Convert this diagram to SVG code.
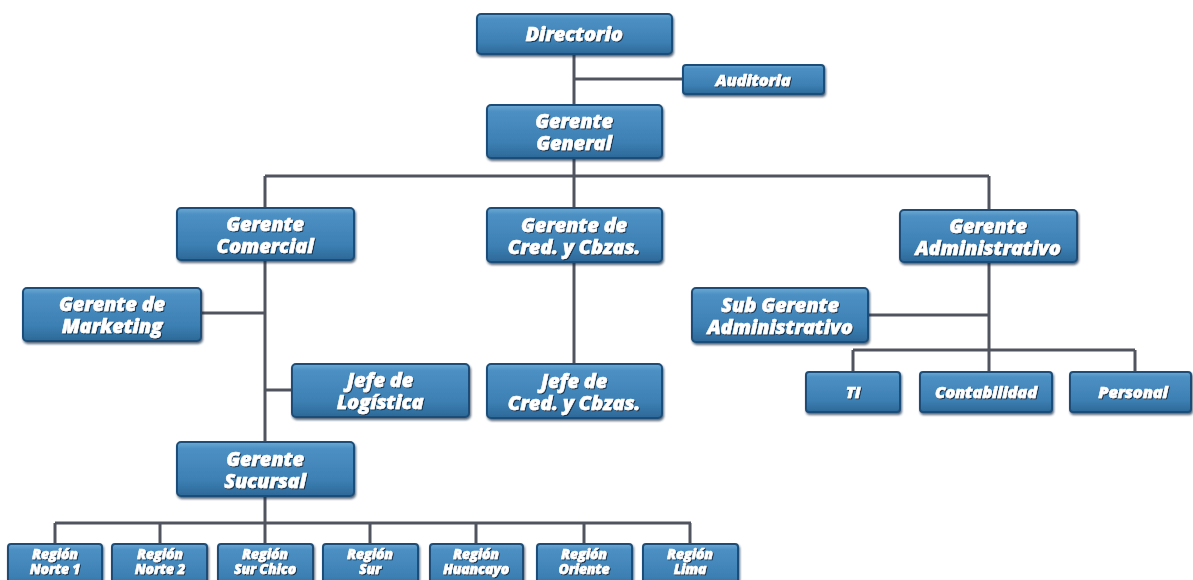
<svg xmlns="http://www.w3.org/2000/svg" width="1193" height="580" viewBox="0 0 1193 580">
<defs>
<linearGradient id="bg" x1="0" y1="0" x2="0" y2="1">
<stop offset="0" stop-color="#6eaad4"/>
<stop offset="0.12" stop-color="#4d90c3"/>
<stop offset="0.7" stop-color="#3d80b3"/>
<stop offset="1" stop-color="#2c6898"/>
</linearGradient>
<filter id="sh" x="-10%" y="-20%" width="120%" height="150%">
<feDropShadow dx="1" dy="2" stdDeviation="1" flood-color="#0c2a45" flood-opacity="0.7"/>
</filter>
<filter id="ts" x="-10%" y="-30%" width="120%" height="160%">
<feDropShadow dx="1" dy="1" stdDeviation="0.6" flood-color="#0a2640" flood-opacity="0.9"/>
</filter>
</defs>
<style>
.b{fill:url(#bg);stroke:#1d4e78;stroke-width:2;filter:url(#sh)}
.t{font-family:"Open Sans","Liberation Sans",sans-serif;font-weight:800;font-style:italic;fill:#ffffff;text-anchor:middle;filter:url(#ts);stroke:#ffffff;stroke-width:0.5px}
.l{font-size:20px;letter-spacing:-0.2px}
.m{font-size:16.5px;letter-spacing:-0.2px}
.s{font-size:14px;letter-spacing:-0.2px}
.c{fill:none;stroke:#50545f;stroke-width:3}
</style>
<rect width="1193" height="580" fill="#ffffff"/>
<g id="connectors">
<path class="c" d="M574 54V105M574 79H683"/>
<path class="c" d="M574 158V176M265 176H989M265 176V208M574 176V208M989 176V210"/>
<path class="c" d="M265 260V442M201 313H265M265 390H292"/>
<path class="c" d="M574 262V364"/>
<path class="c" d="M989 262V350M868 315H989M853 350H1135M853 350V372M989 350V372M1135 350V372"/>
<path class="c" d="M265 496V523M55 523H691M55 523V544M160 523V544M265 523V544M370 523V544M476 523V544M584 523V544M690 523V544"/>
</g>
<g id="n-directorio"><rect class="b" x="477" y="14" width="195" height="40" rx="4"/><text class="t l" x="574" y="41">Directorio</text></g>
<g id="n-auditoria"><rect class="b" x="683" y="65" width="141" height="29" rx="3"/><text class="t m" x="753" y="86">Auditoria</text></g>
<g id="n-gerente-general"><rect class="b" x="487" y="105" width="175" height="53" rx="4"/><text class="t l" x="574" y="128">Gerente<tspan x="574" dy="22">General</tspan></text></g>
<g id="n-gerente-comercial"><rect class="b" x="177" y="208" width="177" height="52" rx="4"/><text class="t l" x="265" y="231">Gerente<tspan x="265" dy="22">Comercial</tspan></text></g>
<g id="n-gerente-cred"><rect class="b" x="487" y="208" width="175" height="54" rx="4"/><text class="t l" x="574" y="232">Gerente de<tspan x="574" dy="22">Cred. y Cbzas.</tspan></text></g>
<g id="n-gerente-admin"><rect class="b" x="900" y="210" width="177" height="52" rx="4"/><text class="t l" x="988" y="233">Gerente<tspan x="988" dy="22">Administrativo</tspan></text></g>
<g id="n-gerente-marketing"><rect class="b" x="23" y="288" width="178" height="53" rx="4"/><text class="t l" x="112" y="311">Gerente de<tspan x="112" dy="22">Marketing</tspan></text></g>
<g id="n-sub-gerente-admin"><rect class="b" x="692" y="288" width="176" height="54" rx="4"/><text class="t l" x="780" y="312">Sub Gerente<tspan x="780" dy="22">Administrativo</tspan></text></g>
<g id="n-jefe-logistica"><rect class="b" x="292" y="364" width="177" height="53" rx="4"/><text class="t l" x="380" y="387">Jefe de<tspan x="380" dy="22">Logística</tspan></text></g>
<g id="n-jefe-cred"><rect class="b" x="487" y="364" width="175" height="54" rx="4"/><text class="t l" x="574" y="388">Jefe de<tspan x="574" dy="22">Cred. y Cbzas.</tspan></text></g>
<g id="n-ti"><rect class="b" x="806" y="372" width="94" height="40" rx="3"/><text class="t m" x="853" y="398">TI</text></g>
<g id="n-contabilidad"><rect class="b" x="920" y="372" width="132" height="40" rx="3"/><text class="t m" x="986" y="398">Contabilidad</text></g>
<g id="n-personal"><rect class="b" x="1070" y="372" width="121" height="40" rx="3"/><text class="t m" x="1133" y="398">Personal</text></g>
<g id="n-gerente-sucursal"><rect class="b" x="177" y="442" width="177" height="54" rx="4"/><text class="t l" x="265" y="466">Gerente<tspan x="265" dy="22">Sucursal</tspan></text></g>
<g id="n-region-norte1"><rect class="b" x="8" y="544" width="94" height="46" rx="3"/><text class="t s" x="55" y="559">Región<tspan x="55" dy="15">Norte 1</tspan></text></g>
<g id="n-region-norte2"><rect class="b" x="112" y="544" width="95" height="46" rx="3"/><text class="t s" x="160" y="559">Región<tspan x="160" dy="15">Norte 2</tspan></text></g>
<g id="n-region-surchico"><rect class="b" x="218" y="544" width="95" height="46" rx="3"/><text class="t s" x="265" y="559">Región<tspan x="265" dy="15">Sur Chico</tspan></text></g>
<g id="n-region-sur"><rect class="b" x="323" y="544" width="95" height="46" rx="3"/><text class="t s" x="370" y="559">Región<tspan x="370" dy="15">Sur</tspan></text></g>
<g id="n-region-huancayo"><rect class="b" x="430" y="544" width="93" height="46" rx="3"/><text class="t s" x="476" y="559">Región<tspan x="476" dy="15">Huancayo</tspan></text></g>
<g id="n-region-oriente"><rect class="b" x="537" y="544" width="95" height="46" rx="3"/><text class="t s" x="584" y="559">Región<tspan x="584" dy="15">Oriente</tspan></text></g>
<g id="n-region-lima"><rect class="b" x="643" y="544" width="95" height="46" rx="3"/><text class="t s" x="690" y="559">Región<tspan x="690" dy="15">Lima</tspan></text></g>
</svg>
